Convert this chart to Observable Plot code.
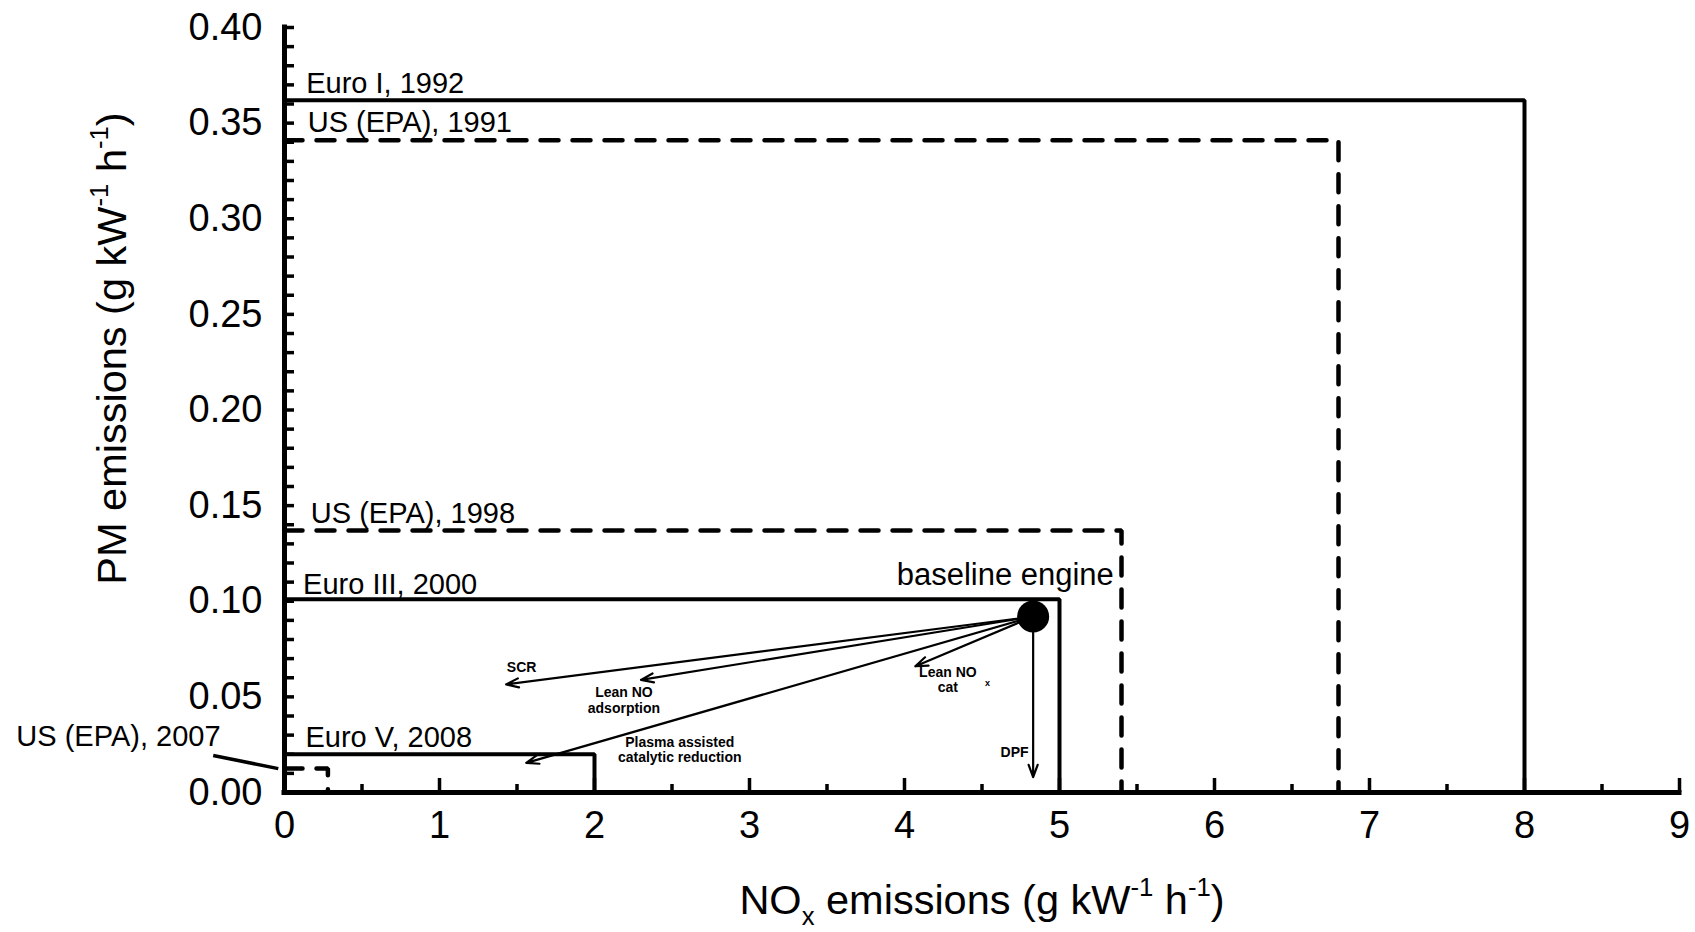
<!DOCTYPE html>
<html>
<head>
<meta charset="utf-8">
<script src="https://cdn.jsdelivr.net/npm/d3@7"></script>
<script src="https://cdn.jsdelivr.net/npm/@observablehq/plot@0.6"></script>
<style>
  html, body { margin: 0; padding: 0; background: #fff; }
  #chart svg { display: block; }
</style>
</head>
<body>
<div id="chart"></div>
<script>
// Heavy-duty diesel emission limits: NOx and PM, g kW-1 h-1
const limitNames  = ["Euro I, 1992", "US (EPA), 1991", "US (EPA), 1998", "Euro III, 2000", "Euro V, 2008", "US (EPA), 2007"];
const limitNOx    = [8.0, 6.8, 5.4, 5.0, 2.0, 0.28];
const limitPM     = [0.362, 0.341, 0.137, 0.101, 0.020, 0.0125];
const limitDashed = [false, true, true, false, false, true];
// label anchors (data units, start of text)
const limitLabelX = [0.14, 0.15, 0.17, 0.12, 0.135, -1.73];
const limitLabelY = [0.3707, 0.3503, 0.1456, 0.1089, 0.0287, 0.0292];
// leader from the "US (EPA), 2007" label to its box
const leaderX = [-0.46, -0.04];
const leaderY = [0.0193, 0.0125];

// Baseline engine and after-treatment routes
const baselineNOx = 4.83;
const baselinePM  = 0.092;
const techNames   = ["SCR", "Lean NO\nadsorption", "Plasma assisted\ncatalytic reduction", "Lean NO\ncat", "DPF"];
const techNOx     = [1.43, 2.30, 1.56, 4.07, 4.83];
const techPM      = [0.0565, 0.0589, 0.0155, 0.0660, 0.0080];
const techLabelX  = [1.53, 2.19, 2.55, 4.28, 4.71];
const techLabelY  = [0.0654, 0.0484, 0.0224, 0.0591, 0.0209];

// Axis ticks
const xTickLabels = [0, 1, 2, 3, 4, 5, 6, 7, 8, 9];
const xMajorTicks = [1, 2, 3, 4, 5, 6, 7, 8, 9];
const xMinorTicks = [0.5, 1.5, 2.5, 3.5, 4.5, 5.5, 6.5, 7.5, 8.5];
const yTickLabels = [0, 0.05, 0.10, 0.15, 0.20, 0.25, 0.30, 0.35, 0.40];
const yMinorTicks = d3.range(1, 41).map(i => +(i / 100).toFixed(2));

const W = 1695, H = 932;
const M = {top: 27, right: 16, bottom: 140, left: 284};
const plotW = W - M.left - M.right;
const plotH = H - M.top - M.bottom;

// one three-point path per limit: along PM limit, then down at the NOx limit
const limitPaths = limitNames.flatMap((name, i) => [
  {name, dashed: limitDashed[i], nox: 0, pm: limitPM[i]},
  {name, dashed: limitDashed[i], nox: limitNOx[i], pm: limitPM[i]},
  {name, dashed: limitDashed[i], nox: limitNOx[i], pm: 0}
]);
const limitLabels = limitNames.map((name, i) => ({name, x: limitLabelX[i], y: limitLabelY[i]}));
const techArrows = techNames.map((name, i) => ({name, nox: techNOx[i], pm: techPM[i], lx: techLabelX[i], ly: techLabelY[i]}));

const font = "'Liberation Sans', Arial, Helvetica, sans-serif";
const titleSize = 41.5;

const chart = Plot.plot({
  width: W,
  height: H,
  marginTop: M.top,
  marginRight: M.right,
  marginBottom: M.bottom,
  marginLeft: M.left,
  x: {domain: [0, 9]},
  y: {domain: [0, 0.40]},
  style: {fontFamily: font, background: "#fff", color: "#000", overflow: "visible"},
  marks: [
    Plot.axisX({ticks: xTickLabels, tickSize: 0, tickPadding: 19, fontSize: 38, label: null, tickFormat: d => String(d)}),
    Plot.axisY({ticks: yTickLabels, tickSize: 0, tickPadding: 22, fontSize: 38, label: null, tickFormat: d3.format(".2f")}),

    // inward ticks
    Plot.tickX(xMajorTicks, {x: d => d, insetTop: plotH - 14, strokeWidth: 3.5}),
    Plot.tickX(xMinorTicks, {x: d => d, insetTop: plotH - 8, strokeWidth: 3.5}),
    Plot.tickY(yMinorTicks, {y: d => d, insetRight: plotW - 10, strokeWidth: 3.5}),

    // limit boxes
    Plot.line(limitPaths.filter(d => !d.dashed), {x: "nox", y: "pm", z: "name", stroke: "#000", strokeWidth: 4, strokeLinejoin: "miter"}),
    Plot.line(limitPaths.filter(d => d.dashed), {x: "nox", y: "pm", z: "name", stroke: "#000", strokeWidth: 4.5, strokeDasharray: "18,14", strokeLinejoin: "miter"}),

    // axis lines
    Plot.ruleY([0], {x1: 0, x2: 9, strokeWidth: 5, strokeLinecap: "square"}),
    Plot.ruleX([0], {y1: 0, y2: 0.40, strokeWidth: 5, strokeLinecap: "square"}),

    // limit labels
    Plot.text(limitLabels, {x: "x", y: "y", text: "name", textAnchor: "start", fontSize: 29}),
    Plot.link([0], {x1: () => leaderX[0], y1: () => leaderY[0], x2: () => leaderX[1], y2: () => leaderY[1], strokeWidth: 3.5}),

    // after-treatment routes from the baseline engine
    Plot.arrow(techArrows, {x1: () => baselineNOx, y1: () => baselinePM, x2: "nox", y2: "pm", strokeWidth: 2.2, headLength: 9, headAngle: 40}),
    Plot.dot([0], {x: () => baselineNOx, y: () => baselinePM, r: 16, fill: "#000", stroke: null}),
    Plot.text(["baseline engine"], {x: () => 4.65, y: () => 0.1135, fontSize: 31}),
    Plot.text(techArrows, {x: "lx", y: "ly", text: "name", fontSize: 14, fontWeight: "bold", lineHeight: 1.1}),
    Plot.text(["x"], {x: () => 4.535, y: () => 0.057, fontSize: 9, fontWeight: "bold"}),

    // axis titles
    Plot.text(["NO|x| emissions (g kW^-1^ h^-1^)"], {frameAnchor: "bottom", textAnchor: "middle", lineAnchor: "middle", dy: 108, fontSize: titleSize}),
    Plot.text(["PM emissions (g kW^-1^ h^-1^)"], {frameAnchor: "left", textAnchor: "middle", lineAnchor: "middle", dx: -172, dy: -61.5, rotate: -90, fontSize: titleSize})
  ]
});

// Rich text for the axis titles: |..| subscript, ^..^ superscript
function richText(textEl, size) {
  const src = textEl.textContent;
  const parts = [];
  const re = /(\|[^|]*\||\^[^^]*\^)/g;
  let last = 0, m;
  while ((m = re.exec(src))) {
    if (m.index > last) parts.push({t: src.slice(last, m.index), s: 0});
    const tok = m[0];
    parts.push({t: tok.slice(1, -1), s: tok[0] === "|" ? 1 : -1});
    last = m.index + tok.length;
  }
  if (last < src.length) parts.push({t: src.slice(last), s: 0});
  textEl.textContent = "";
  let shift = 0;
  for (const p of parts) {
    const ts = document.createElementNS("http://www.w3.org/2000/svg", "tspan");
    const target = p.s === -1 ? -0.42 * size : p.s === 1 ? 0.28 * size : 0;
    if (target !== shift) ts.setAttribute("dy", target - shift);
    shift = target;
    if (p.s !== 0) ts.setAttribute("font-size", 0.62 * size);
    ts.textContent = p.t;
    textEl.appendChild(ts);
  }
}
chart.querySelectorAll("text").forEach(t => {
  if (!t.querySelector("tspan") && /[|^]/.test(t.textContent)) richText(t, titleSize);
});

document.getElementById("chart").appendChild(chart);
</script>
</body>
</html>
